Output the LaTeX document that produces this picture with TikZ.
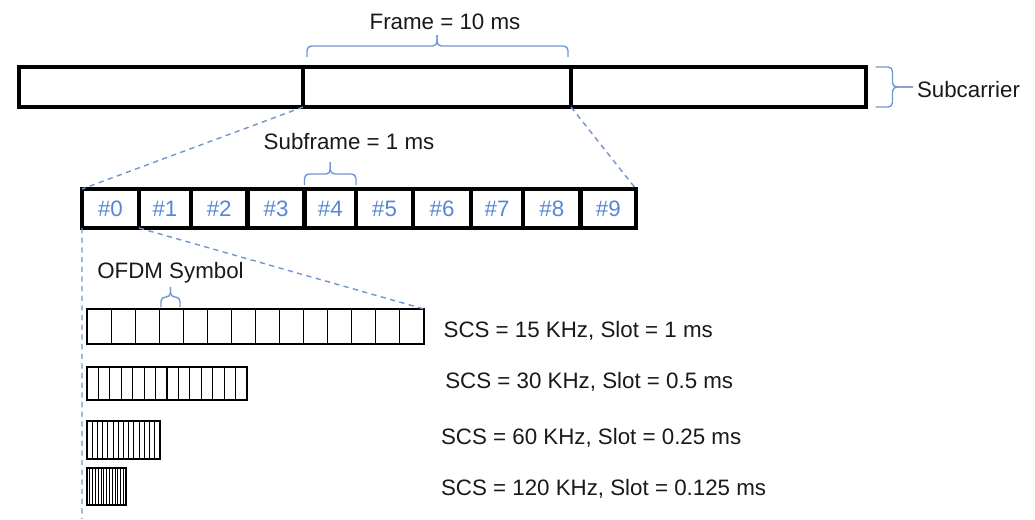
\documentclass[tikz,border=0pt]{standalone}
\usepackage{fontspec}
\setmainfont{Liberation Sans}
\usepackage{xcolor}
\usepackage{tikz}
\usetikzlibrary{positioning}
\definecolor{lblue}{RGB}{86,134,214}
\definecolor{lline}{RGB}{112,150,208}
\definecolor{ink}{RGB}{25,25,25}

\begin{document}
\begin{tikzpicture}[font=\fontsize{12.7}{15}\selectfont, text=ink,
    frm/.style = {draw, rectangle, line width=2.2pt, minimum height=0.8cm, inner sep=0pt, outer sep=0pt},
    sub/.style = {draw, rectangle, line width=2.4pt, minimum height=0.78cm, inner sep=0pt, outer sep=0pt, text=lblue},
    slot/.style = {draw, rectangle, line width=0.8pt, anchor=west, inner sep=0pt, outer sep=0pt},
    desc/.style = {inner sep=0pt},
    brc/.style = {draw=lline, line width=0.8pt, rounded corners=2.5pt},
    guide/.style = {draw=lline, line width=0.8pt, dash pattern=on 3pt off 2.5pt}]
        \useasboundingbox (0,0) rectangle (20.7,-10.38);
        % frame
        \node[frm, minimum width=5.68cm] (1) at (3.22,-1.74) {};
        \node[frm, minimum width=5.36cm] (2) [right=0pt of 1] {};
        \node[frm, minimum width=5.9cm] (3) [right=0pt of 2] {};
        % subframes
        \node[sub, minimum width=1.14cm] (4) at (2.21,-4.17) {\#0};
        \node[sub, minimum width=1.04cm] (5) [right=0pt of 4] {\#1};
        \node[sub, minimum width=1.13cm] (6) [right=0pt of 5] {\#2};
        \node[sub, minimum width=1.14cm] (7) [right=0pt of 6] {\#3};
        \node[sub, minimum width=1.03cm] (8) [right=0pt of 7] {\#4};
        \node[sub, minimum width=1.14cm] (9) [right=0pt of 8] {\#5};
        \node[sub, minimum width=1.16cm] (10) [right=0pt of 9] {\#6};
        \node[sub, minimum width=1.04cm] (11) [right=0pt of 10] {\#7};
        \node[sub, minimum width=1.15cm] (12) [right=0pt of 11] {\#8};
        \node[sub, minimum width=1.11cm] (13) [right=0pt of 12] {\#9};
        % slots
        \node[slot, minimum width=6.74cm, minimum height=0.7cm] (14) at (1.74,-6.53) {};
        \node[slot, minimum width=3.2cm, minimum height=0.66cm] (15) at (1.74,-7.67) {};
        \node[slot, minimum width=1.46cm, minimum height=0.76cm] (16) at (1.74,-8.8) {};
        \node[slot, minimum width=0.78cm, minimum height=0.74cm] (17) at (1.74,-9.73) {};
        \draw[line width=0.6pt, shift={(14.south west)}] (0,0) grid[xstep=0.48143, ystep=1] (6.74,0.7);
        \draw[line width=0.6pt, shift={(15.south west)}] (0,0) grid[xstep=0.22857, ystep=1] (3.2,0.66);
        \draw[line width=0.5pt, shift={(16.south west)}] (0,0) grid[xstep=0.10429, ystep=1] (1.46,0.76);
        \draw[line width=0.4pt, shift={(17.south west)}] (0,0) grid[xstep=0.05571, ystep=1] (0.78,0.74);
        % texts
        \node[desc, anchor=base] (18) at (8.9,-0.58) {Frame = 10 ms};
        \node[desc, anchor=base west, outer sep=0.08cm] (19) at (18.26,-1.94) {Subcarrier};
        \node[desc, anchor=base] (20) at (6.98,-2.98) {Subframe = 1 ms};
        \node[desc, anchor=base west] (21) at (1.94,-5.56) {OFDM Symbol};
        \node[desc, anchor=base west] (22) at (8.866,-6.74) {SCS = 15 KHz, Slot = 1 ms};
        \node[desc, anchor=base west] (23) at (8.9,-7.76) {SCS = 30 KHz, Slot = 0.5 ms};
        \node[desc, anchor=base west] (24) at (8.814,-8.88) {SCS = 60 KHz, Slot = 0.25 ms};
        \node[desc, anchor=base west] (25) at (8.814,-9.9) {SCS = 120 KHz, Slot = 0.125 ms};
        \coordinate (26) at (1.64,-10.38);
        % braces
        \draw[brc] ([xshift=0.08cm, yshift=0.2cm]2.north west) |- ([yshift=0.42cm]2.north) -- ++(0,0.22);
        \draw[brc] ([xshift=-0.06cm, yshift=0.2cm]2.north east) |- ([yshift=0.42cm]2.north) -- ++(0,0.22);
        \draw[brc] ([yshift=0.08cm]8.north west) |- ([yshift=0.3cm]8.north) -- ++(0,0.24);
        \draw[brc] ([yshift=0.08cm]8.north east) |- ([yshift=0.3cm]8.north) -- ++(0,0.24);
        \draw[brc] ([xshift=0.19cm]3.north east) -| ([xshift=0.53cm]3.east) -- (19.west |- 3.east);
        \draw[brc] ([xshift=0.19cm]3.south east) -| ([xshift=0.53cm]3.east) -- (19.west |- 3.east);
        \draw[brc] ([xshift=1.48cm, yshift=0.04cm]14.north west) |- ([xshift=1.67cm, yshift=0.24cm]14.north west) -- ++(0,0.2);
        \draw[brc] ([xshift=1.86cm, yshift=0.04cm]14.north west) |- ([xshift=1.67cm, yshift=0.24cm]14.north west) -- ++(0,0.2);
        % zoom lines
        \draw[guide] (1.south east) -- (4.north west);
        \draw[guide] (2.south east) -- (13.north east);
        \draw[guide] (4.south east) -- (14.north east);
        \draw[guide] (4.south west) -- (26);
    \end{tikzpicture}
\end{document}
